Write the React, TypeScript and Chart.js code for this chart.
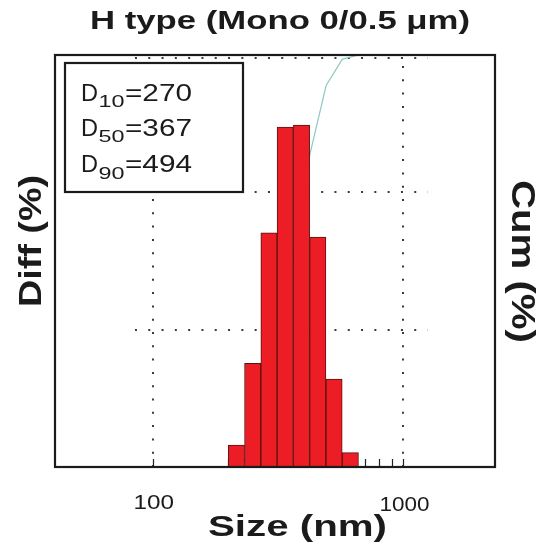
import React, { useEffect, useRef } from "react";
import { Chart, registerables } from "chart.js";

Chart.register(...registerables);

// ---------- data ----------
const BIN_CENTERS = [215.7, 250.5, 290.9, 337.7, 392.2, 455.4, 528.8, 614.0]; // nm (log-spaced bins)
const DIFF_PCT = [1.6, 7.55, 17.05, 24.75, 24.9, 16.75, 6.4, 1.05]; // Diff (%)
const CUM_SIZE = [200.3, 232.6, 270.2, 313.8, 364.4, 423.3, 491.6, 570.9, 663.1, 1250]; // nm
const CUM_PCT = [0, 1.6, 9.15, 26.2, 50.95, 75.85, 92.6, 99.0, 100, 100]; // Cum (%)
const X_MAJOR_TICKS = [100, 1000];
const X_TICK_LABELS = ["100", "1000"];
const X_MINOR_TICKS = [200, 300, 400, 500, 600, 700, 800, 900];
const Y_GRID = [10, 20, 30];
const GRID_X_RANGE = [85, 1250];
const X_RANGE = [40.8, 2317];
const D_SUBS = ["10", "50", "90"];
const D_VALUES = [270, 367, 494];
const TITLE = "H type (Mono 0/0.5 \u03bcm)";
const X_TITLE = "Size (nm)";
const Y_TITLE = "Diff (%)";
const Y2_TITLE = "Cum (%)";

const FONT = '"Liberation Sans", Arial, Helvetica, sans-serif';
const INK = "#1b1b1b";

function drawFitted(
  ctx: CanvasRenderingContext2D,
  text: string,
  x: number,
  y: number,
  font: string,
  width: number,
  rotation = 0,
  align: CanvasTextAlign = "center"
) {
  ctx.save();
  ctx.font = font;
  const natural = ctx.measureText(text).width || 1;
  ctx.translate(x, y);
  if (rotation) ctx.rotate(rotation);
  ctx.scale(width / natural, 1);
  ctx.textAlign = align;
  ctx.textBaseline = "alphabetic";
  ctx.fillStyle = INK;
  ctx.fillText(text, 0, 0);
  ctx.restore();
}

const decorPlugin = {
  id: "decor",
  beforeDatasetsDraw(chart: any) {
    const { ctx, chartArea: a, scales } = chart;
    const x = scales.x;
    const y = scales.y;
    ctx.save();
    // dotted grid (MATLAB style, below data)
    ctx.strokeStyle = "#3a3a3a";
    ctx.lineWidth = 2;
    ctx.setLineDash([2, 11.3]);
    ctx.beginPath();
    for (const v of X_MAJOR_TICKS) {
      const px = Math.round(x.getPixelForValue(v));
      ctx.moveTo(px, a.bottom);
      ctx.lineTo(px, a.top);
    }
    const gx0 = x.getPixelForValue(GRID_X_RANGE[0]);
    const gx1 = x.getPixelForValue(GRID_X_RANGE[1]);
    for (const v of Y_GRID) {
      const py = Math.round(y.getPixelForValue(v)) + (v === 30 ? 3 : 0);
      ctx.moveTo(gx0, py);
      ctx.lineTo(gx1, py);
    }
    ctx.stroke();
    ctx.setLineDash([]);
    // ticks (inward)
    ctx.strokeStyle = "#222";
    ctx.lineWidth = 1.2;
    ctx.beginPath();
    for (const v of [...X_MAJOR_TICKS, ...X_MINOR_TICKS]) {
      const px = Math.round(x.getPixelForValue(v)) + 0.5;
      ctx.moveTo(px, a.bottom);
      ctx.lineTo(px, a.bottom - 8);
    }
    ctx.stroke();
    ctx.restore();
  },
  afterDatasetsDraw(chart: any) {
    const { ctx, chartArea: a, scales } = chart;
    const x = scales.x;
    ctx.save();
    // frame
    ctx.strokeStyle = INK;
    ctx.lineWidth = 2.2;
    ctx.strokeRect(a.left, a.top, a.right - a.left, a.bottom - a.top);

    // statistics box
    const bx = a.left + 10;
    const by = a.top + 8;
    const bw = 178;
    const bh = 129;
    ctx.fillStyle = "#fff";
    ctx.fillRect(bx, by, bw, bh);
    ctx.strokeRect(bx, by, bw, bh);
    const baselines = [100.5, 135.5, 172];
    D_SUBS.forEach((sub, i) => {
      const base = baselines[i];
      const left = bx + 16;
      drawFitted(ctx, "D", left, base, `24px ${FONT}`, 17, 0, "left");
      drawFitted(ctx, sub, left + 17.5, base + 6.5, `17px ${FONT}`, 26, 0, "left");
      drawFitted(ctx, "=" + D_VALUES[i], left + 44, base, `24px ${FONT}`, 67, 0, "left");
    });

    // tick labels
    const tickWidths = [40.5, 50];
    const tickBase = [508.5, 510.5];
    X_MAJOR_TICKS.forEach((v, i) => {
      const px = x.getPixelForValue(v);
      drawFitted(ctx, X_TICK_LABELS[i], px + 1, tickBase[i], `19.5px ${FONT}`, tickWidths[i]);
    });

    // titles
    drawFitted(ctx, TITLE, 280, 29, `bold 25.5px ${FONT}`, 380);
    drawFitted(ctx, X_TITLE, 297.5, 535.5, `bold 30px ${FONT}`, 179);
    drawFitted(ctx, Y_TITLE, 40.5, 241, `bold 32px ${FONT}`, 132, -Math.PI / 2);
    drawFitted(ctx, Y2_TITLE, 512, 261.5, `bold 33px ${FONT}`, 163, Math.PI / 2);
    ctx.restore();
  },
};

export default function App() {
  const ref = useRef<HTMLCanvasElement>(null);

  useEffect(() => {
    if (!ref.current) return;
    const chart = new Chart(ref.current, {
      type: "bar",
      data: {
        datasets: [
          {
            type: "bar",
            label: "Diff",
            data: BIN_CENTERS.map((c, i) => ({ x: c, y: DIFF_PCT[i] })),
            backgroundColor: "#ec1d25",
            borderColor: "#5a1212",
            borderWidth: 1,
            barPercentage: 1,
            categoryPercentage: 1,
            xAxisID: "x",
            yAxisID: "y",
            order: 0,
          },
          {
            type: "line",
            label: "Cum",
            data: CUM_SIZE.map((s, i) => ({ x: s, y: CUM_PCT[i] })),
            borderColor: "#8ec9c3",
            borderWidth: 1.2,
            pointRadius: 0,
            tension: 0,
            fill: false,
            xAxisID: "x",
            yAxisID: "y2",
            order: 1,
          },
        ] as any,
      },
      options: {
        responsive: false,
        devicePixelRatio: 1,
        animation: false,
        layout: { padding: { left: 55, right: 54, top: 55, bottom: 85 } },
        plugins: {
          legend: { display: false },
          title: { display: false },
          tooltip: { enabled: false },
        },
        scales: {
          x: {
            type: "logarithmic",
            display: false,
            offset: false,
            min: X_RANGE[0],
            max: X_RANGE[1],
            afterBuildTicks: (scale: any) => {
              scale.ticks = X_MAJOR_TICKS.map((v) => ({ value: v, major: true }));
            },
          },
          y: { type: "linear", display: false, min: 0, max: 30 },
          y2: { type: "linear", display: false, min: 0, max: 100, position: "right" },
        },
      } as any,
      plugins: [decorPlugin],
    });
    return () => chart.destroy();
  }, []);

  return (
    <div style={{ position: "fixed", left: 0, top: 0, width: 549, height: 552, background: "#fff" }}>
      <canvas ref={ref} width={549} height={552} style={{ display: "block", width: 549, height: 552 }} />
    </div>
  );
}
